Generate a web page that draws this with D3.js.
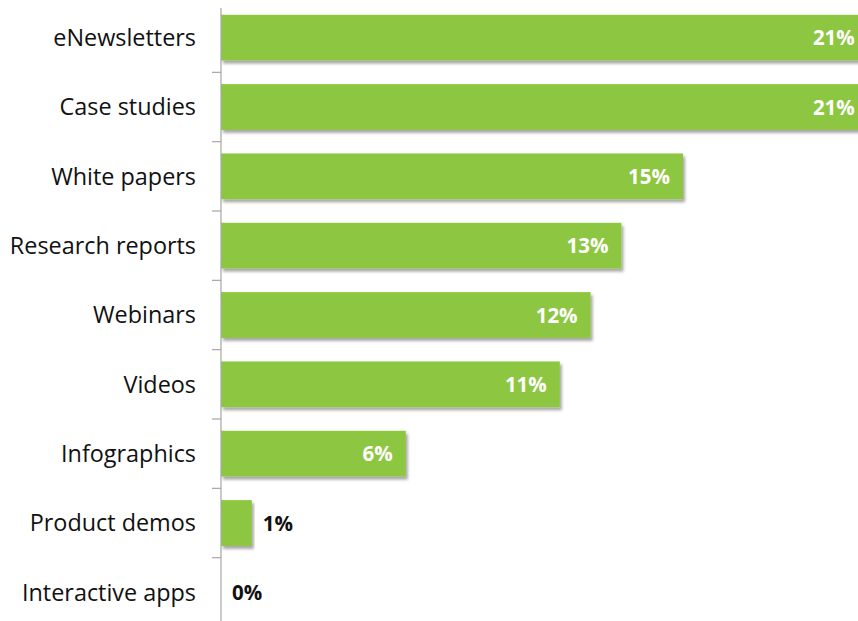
<!DOCTYPE html>
<html>
<head>
<meta charset="utf-8">
<script src="https://cdn.jsdelivr.net/npm/d3@7"></script>
<style>
  html, body { margin: 0; padding: 0; background: #ffffff; }
  svg { display: block; }
</style>
</head>
<body>
<svg id="chart" width="858" height="621"></svg>
<script>
// Content types and their share of responses (%)
const categories = [
  "eNewsletters", "Case studies", "White papers", "Research reports",
  "Webinars", "Videos", "Infographics", "Product demos", "Interactive apps"
];
const values = [21, 21, 15, 13, 12, 11, 6, 1, 0];

const W = 858, H = 621;
const axisX = 221;
const svg = d3.select("#chart");

const defs = svg.append("defs");
const shadow = defs.append("filter")
  .attr("id", "barShadow")
  .attr("x", "-5%").attr("y", "-20%")
  .attr("width", "115%").attr("height", "150%");
shadow.append("feDropShadow")
  .attr("dx", 2).attr("dy", 3)
  .attr("stdDeviation", 1.8)
  .attr("flood-color", "#000")
  .attr("flood-opacity", 0.35);

const x = d3.scaleLinear().domain([0, 21]).range([axisX, axisX + 21 * 30.8]);
const y = d3.scaleBand().domain(categories).range([3, 627])
  .paddingInner(0.34).paddingOuter(0.17);

const rows = categories.map((c, i) => ({ c, v: values[i] }));

// Bars
svg.append("g").selectAll("rect")
  .data(rows.filter(d => d.v > 0))
  .join("rect")
  .attr("x", x(0))
  .attr("y", d => y(d.c))
  .attr("width", d => x(d.v) - x(0))
  .attr("height", y.bandwidth())
  .attr("fill", "#8dc63f")
  .attr("filter", "url(#barShadow)");

// Category axis: vertical line with ticks between bands
const axis = svg.append("g");
axis.append("line")
  .attr("x1", axisX).attr("x2", axisX)
  .attr("y1", 8).attr("y2", H)
  .attr("stroke", "#a6a6a6").attr("stroke-width", 1.2);
const step = y.step();
const y0 = y.range()[0];
axis.selectAll("line.tick")
  .data(d3.range(1, categories.length))
  .join("line")
  .attr("class", "tick")
  .attr("x1", axisX - 9).attr("x2", axisX)
  .attr("y1", i => y0 + i * step).attr("y2", i => y0 + i * step)
  .attr("stroke", "#a6a6a6").attr("stroke-width", 1.2);

// Category labels
svg.append("g").selectAll("text")
  .data(rows)
  .join("text")
  .attr("x", 196)
  .attr("y", d => y(d.c) + y.bandwidth() / 2)
  .attr("dy", "0.35em")
  .attr("text-anchor", "end")
  .attr("font-family", "'Open Sans', sans-serif")
  .attr("font-size", 23.4)
  .attr("fill", "#111")
  .text(d => d.c);

// Value labels: inside the bar when it is wide enough, otherwise after it
svg.append("g").selectAll("text")
  .data(rows)
  .join("text")
  .each(function(d) {
    const inside = x(d.v) - x(0) > 60;
    d3.select(this)
      .attr("x", inside ? x(d.v) - 13 : x(d.v) + 11)
      .attr("text-anchor", inside ? "end" : "start")
      .attr("fill", inside ? "#ffffff" : "#111");
  })
  .attr("y", d => y(d.c) + y.bandwidth() / 2)
  .attr("dy", "0.37em")
  .attr("font-family", "'Open Sans', sans-serif")
  .attr("font-weight", "bold")
  .attr("font-size", 20.5)
  .text(d => d.v + "%");
</script>
</body>
</html>
